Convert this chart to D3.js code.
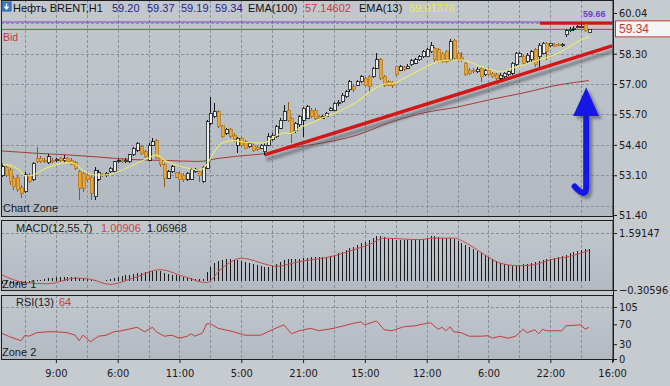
<!DOCTYPE html>
<html><head><meta charset="utf-8">
<script src="https://cdn.jsdelivr.net/npm/d3@7"></script>
<style>
html,body{margin:0;padding:0;background:#c5cacf;overflow:hidden}
text{font-family:"Liberation Sans",Arial,sans-serif}
.nar{font-family:"Liberation Sans Narrow","DejaVu Sans Condensed","Arial Narrow",sans-serif}
</style></head><body>
<script>
// ---------- DATA ----------
const openP = [53.11,53.44,53.33,52.97,53.01,52.58,52.40,53.11,52.90,53.82,
53.82,53.75,53.64,53.75,53.72,53.82,53.72,53.82,53.72,53.64,
53.25,53.18,53.11,53.01,52.18,52.93,53.15,53.11,53.25,53.25,
53.68,53.72,53.68,53.68,53.97,54.18,54.32,54.11,53.75,54.39,
54.58,53.82,53.54,52.97,53.25,53.21,53.18,53.11,52.93,52.93,
53.25,53.25,52.83,53.40,55.32,55.61,55.82,55.21,54.89,55.06,
54.82,54.39,54.68,54.54,54.32,54.39,54.29,54.25,54.11,54.39,
54.61,54.75,55.11,55.46,55.89,55.53,55.01,55.25,55.46,55.53,
55.89,55.89,55.63,55.53,55.61,55.89,55.89,56.15,56.25,56.46,
56.75,56.89,56.96,57.10,57.25,57.32,57.32,57.67,58.03,57.32,
57.10,57.06,57.74,57.60,57.72,57.67,57.82,57.89,58.03,58.17,
58.17,58.39,58.53,58.46,58.31,58.39,58.03,58.88,58.31,58.14,
57.89,57.60,57.60,57.53,57.67,57.39,57.60,57.46,57.39,57.25,
57.32,57.39,57.46,57.82,58.17,58.17,57.96,58.03,58.46,58.17,
58.31,58.74,58.63,58.71,58.71,58.63,59.10,59.28,59.34,59.43,
59.46,59.53,59.20];
const highP = [53.61,53.50,53.40,53.07,53.11,52.68,53.25,53.18,53.68,54.32,
53.93,53.82,54.01,53.82,53.85,53.90,53.97,53.90,53.82,53.72,
53.33,53.25,53.18,53.11,53.47,53.33,53.21,53.25,53.47,53.72,
53.78,53.82,53.82,54.01,54.32,54.54,54.39,54.18,54.47,54.68,
54.64,53.90,53.61,53.33,53.54,53.25,53.25,53.18,53.25,53.40,
53.40,53.33,53.50,55.46,56.46,56.18,55.89,55.25,55.11,55.11,
54.89,54.75,54.75,54.61,54.49,54.47,54.35,54.44,54.47,54.89,
54.92,55.25,55.53,56.10,56.25,55.61,55.39,55.68,56.03,56.10,
55.96,55.96,55.68,55.68,55.82,56.03,56.25,56.32,56.60,56.75,
57.17,57.00,57.17,57.39,57.32,57.39,57.74,58.31,58.10,57.39,
57.17,57.14,57.77,57.82,57.77,57.86,58.06,58.10,58.24,58.46,
58.53,58.81,58.60,58.53,58.39,58.46,58.91,58.91,58.39,58.39,
57.96,57.67,57.67,57.72,57.74,57.67,57.67,57.53,57.46,57.46,
57.53,57.60,57.96,58.39,58.39,58.24,58.31,58.46,58.53,58.74,
58.81,58.81,58.77,58.77,58.77,58.77,59.34,59.46,59.48,59.53,
59.57,59.60,59.37];
const lowP = [53.04,53.01,52.68,52.47,52.40,52.11,52.33,52.75,52.87,53.64,
53.61,53.61,53.58,53.64,53.68,53.68,53.61,53.61,53.54,53.33,
52.04,52.40,52.83,52.04,52.04,52.87,53.01,53.04,53.21,53.21,
53.64,53.61,53.64,53.64,53.93,54.11,53.97,53.82,53.72,54.35,
53.78,53.47,52.61,52.93,53.18,52.97,52.40,52.83,52.87,52.90,
53.21,52.83,52.79,53.35,55.25,55.53,55.11,54.68,54.82,54.68,
54.54,54.04,54.32,54.21,54.25,54.11,54.15,54.21,53.97,54.35,
54.58,54.68,55.06,55.43,55.39,54.47,54.92,55.18,54.75,55.49,
55.53,55.46,55.49,55.49,55.58,55.86,55.86,56.06,56.21,56.39,
56.68,56.68,56.92,57.06,56.92,56.63,57.25,57.63,57.17,56.89,
56.92,56.82,57.35,57.57,57.57,57.63,57.77,57.86,58.00,58.13,
58.14,58.34,57.96,57.92,57.92,57.92,58.00,58.03,57.96,57.96,
57.35,57.39,57.46,57.46,57.10,57.35,57.35,57.25,57.17,57.17,
57.25,57.35,57.39,57.77,58.14,57.82,57.89,57.96,57.74,57.74,
58.27,58.03,58.57,58.57,58.63,58.57,59.03,59.24,59.28,59.38,
59.43,59.24,59.19];
const closeP = [53.47,53.11,52.83,52.61,52.47,52.30,53.15,52.83,53.61,53.68,
53.68,53.68,53.90,53.71,53.78,53.75,53.82,53.68,53.58,53.40,
52.54,52.54,52.90,52.33,53.30,53.21,53.07,53.18,53.40,53.68,
53.72,53.68,53.75,53.97,54.25,54.47,54.04,53.90,54.39,54.54,
53.82,53.54,52.97,53.25,53.47,53.01,52.90,52.90,53.18,53.33,
53.35,53.07,53.44,55.39,55.75,55.82,55.18,54.75,55.06,54.75,
54.61,54.68,54.39,54.25,54.47,54.18,54.21,54.39,54.39,54.75,
54.82,55.18,55.46,55.82,55.46,54.89,55.32,55.61,55.96,56.03,
55.61,55.53,55.53,55.63,55.75,55.96,56.18,56.23,56.53,56.68,
57.10,56.75,57.10,57.32,56.96,56.89,57.67,58.03,57.25,56.96,
56.96,56.96,57.39,57.74,57.63,57.77,58.00,58.03,58.17,58.39,
58.49,58.67,58.03,57.96,57.96,57.96,58.81,58.10,58.03,58.03,
57.39,57.46,57.53,57.63,57.32,57.60,57.39,57.32,57.25,57.37,
57.46,57.53,57.89,58.31,58.31,57.89,58.24,58.39,57.82,58.67,
58.74,58.39,58.74,58.60,58.67,58.71,59.28,59.34,59.38,59.46,
59.48,59.28,59.34];

const ema13Idx = [0,2,5,6,8,11,13,17,19,21,24,27,30,34,38,40,42,45,48,51,53,55,57,60,64,68,70,73,75,77,80,83,88,92,96,99,101,105,109,113,116,119,123,126,130,132,135,139,144,147,150,152];
const ema13Val = [53.58,53.54,53.25,53.07,53.11,53.37,53.50,53.64,53.58,53.32,53.11,53.11,53.25,53.54,53.84,53.97,53.75,53.54,53.41,53.32,53.54,54.11,54.48,54.58,54.49,54.48,54.69,54.91,54.89,55.12,55.33,55.55,55.89,56.25,56.75,57.00,57.03,57.32,57.67,57.96,58.03,58.03,57.82,57.63,57.53,57.67,57.82,58.03,58.32,58.60,58.89,59.01];

const ema100Idx = [0,8,17,25,34,43,51,56,60,69,75,83,92,100,109,118,126,135,144,152];
const ema100Val = [54.14,54.05,53.97,53.88,53.77,53.73,53.69,53.82,53.90,54.05,54.27,54.48,54.82,55.33,55.76,56.02,56.32,56.62,56.96,57.15];

const macdMain = [-0.10,-0.12,-0.12,-0.13,-0.14,-0.12,-0.08,-0.06,-0.02,0.02,
0.04,0.06,0.08,0.10,0.12,0.13,0.14,0.14,0.13,0.12,
0.10,0.08,0.06,0.04,0.02,0.01,0.01,0.02,0.05,0.08,
0.12,0.15,0.18,0.20,0.22,0.25,0.27,0.29,0.31,0.33,
0.34,0.32,0.27,0.24,0.21,0.18,0.15,0.13,0.11,0.09,
0.07,0.05,0.06,0.30,0.47,0.58,0.66,0.70,0.72,0.72,
0.70,0.68,0.65,0.62,0.59,0.56,0.53,0.50,0.47,0.47,
0.50,0.56,0.62,0.70,0.72,0.72,0.72,0.74,0.76,0.77,
0.78,0.79,0.79,0.80,0.80,0.82,0.85,0.93,0.97,1.03,
1.10,1.14,1.20,1.25,1.30,1.35,1.42,1.50,1.50,1.45,
1.40,1.38,1.37,1.36,1.36,1.36,1.37,1.37,1.38,1.40,
1.44,1.50,1.48,1.45,1.43,1.42,1.42,1.38,1.33,1.26,
1.18,1.12,1.05,0.98,0.92,0.86,0.80,0.72,0.66,0.60,
0.56,0.52,0.49,0.50,0.52,0.55,0.57,0.59,0.62,0.66,
0.69,0.72,0.74,0.77,0.80,0.83,0.87,0.91,0.95,0.99,
1.02,1.05,1.07];

const signalIdx = [0,6,12,19,23,28,34,41,47,53,57,62,69,71,77,86,91,95,99,104,108,112,117,121,125,129,134,138,142,147,152];
const signalVal = [0.20,-0.06,-0.10,0.09,0.05,-0.12,0.09,0.37,0.15,-0.06,0.42,0.75,0.53,0.48,0.64,0.83,1.03,1.20,1.42,1.39,1.37,1.42,1.42,1.20,0.87,0.59,0.50,0.54,0.70,0.81,1.01];

const rsiIdx = [0,2,5,6,7,9,12,14,17,19,20,21,23,25,27,29,31,35,37,39,40,42,44,46,48,49,50,52,53,54,56,60,63,67,70,73,75,77,80,82,86,91,93,94,97,99,101,104,107,110,111,113,114,115,116,117,119,121,124,126,127,129,131,133,135,136,138,139,140,141,145,146,150,151,152];
const rsiVal = [52,45,37,48,46,53,55,55,53,48,37,48,35,46,48,55,57,64,55,64,55,46,48,42,46,51,46,53,71,71,62,55,48,48,59,69,51,57,62,57,62,72,75,69,77,59,57,65,67,72,73,60,64,57,65,55,53,46,46,47,42,46,42,46,60,53,59,51,60,57,57,67,69,60,64];

const priceTicks = [60.04,58.30,57.00,55.70,54.40,53.10,51.40];
const priceGrid = [59.60,58.30,57.00,55.70,54.40,53.10,51.80];
const macdTicks = [1.59147,-0.30596];
const rsiTicks = [105,70,30,0];
const timeIdx = [14,30,46,62,78,94,110,126,142,158];
const timeLabels = ["9:00","6:00","11:00","5:00","21:00","15:00","12:00","6:00","22:00","16:00"];
const gridIdx = d3.range(6,158,8);
const trendIdx = [68,158], trendVal = [53.97,58.63];
const resistIdx = [139.3,158], resistVal = [59.60,59.60];
const askLevel = 59.655, bidLevel = 59.34;

// ---------- LAYOUT ----------
const W=670,H=386, R=613;
const svg=d3.select("body").append("svg").attr("width",W).attr("height",H);
const defs=svg.append("defs");
const g1=defs.append("linearGradient").attr("id","bg").attr("x1",0).attr("y1",0).attr("x2",0).attr("y2",1);
g1.append("stop").attr("offset",0).attr("stop-color","#c3c8ce");
g1.append("stop").attr("offset",1).attr("stop-color","#b2b9c1");
const sh=defs.append("filter").attr("id","sh").attr("x","-20%").attr("y","-50%").attr("width","140%").attr("height","200%");
sh.append("feDropShadow").attr("dx",2).attr("dy",5).attr("stdDeviation",1.8).attr("flood-color","#4a4f55").attr("flood-opacity",0.6);
const sh2=defs.append("filter").attr("id","sh2").attr("x","-50%").attr("y","-20%").attr("width","200%").attr("height","140%");
sh2.append("feDropShadow").attr("dx",3).attr("dy",3).attr("stdDeviation",1.5).attr("flood-color","#4a4f55").attr("flood-opacity",0.6);

const panels={main:[0,217],macd:[220,291],rsi:[295,360]};
const x=d3.scaleLinear().domain([0,158]).range([1.8,612.1]);
const yP=d3.scaleLinear().domain([51.40,60.04]).range([215,13]);
const yM=d3.scaleLinear().domain([-0.30596,1.59147]).range([290,233]);
const yR=d3.scaleLinear().domain([0,105]).range([359,307]);

svg.append("rect").attr("width",W).attr("height",H).attr("fill","#c6cbd0");
Object.entries(panels).forEach(([k,[t,b]])=>{
  svg.append("rect").attr("x",1).attr("y",t).attr("width",R-1).attr("height",b-t).attr("fill","url(#bg)");
  defs.append("clipPath").attr("id","c_"+k).append("rect").attr("x",1).attr("y",t).attr("width",R-1).attr("height",b-t);
});

// vertical grid
Object.entries(panels).forEach(([k,[t,b]])=>{
  svg.append("g").attr("clip-path","url(#c_"+k+")").selectAll("line").data(gridIdx).join("line")
    .attr("x1",d=>Math.round(x(d))+0.5).attr("x2",d=>Math.round(x(d))+0.5).attr("y1",t).attr("y2",b)
    .attr("stroke","#87919c").attr("stroke-dasharray","3,2");
});
// horizontal grid
function hgrid(vals,sc,k){
  svg.append("g").attr("clip-path","url(#c_"+k+")").selectAll("line").data(vals).join("line")
   .attr("x1",1).attr("x2",R).attr("y1",d=>Math.round(sc(d))+0.5).attr("y2",d=>Math.round(sc(d))+0.5)
   .attr("stroke","#87919c").attr("stroke-dasharray","3,2");
}
hgrid(priceGrid,yP,"main"); hgrid(macdTicks,yM,"macd"); hgrid([105,0],yR,"rsi");

// ---------- MAIN PANEL ----------
const gm=svg.append("g").attr("clip-path","url(#c_main)");
gm.append("line").attr("x1",1).attr("x2",R).attr("y1",yP(askLevel)).attr("y2",yP(askLevel)).attr("stroke","#7a3fc8").attr("stroke-width",1.2);
gm.append("line").attr("x1",1).attr("x2",R).attr("y1",yP(bidLevel)).attr("y2",yP(bidLevel)).attr("stroke","#c23a3a").attr("stroke-width",1);
const lineE=(idx,val,sc)=>d3.line().x((d,i)=>x(idx[i])).y((d,i)=>sc(val[i])).curve(d3.curveMonotoneX)(idx);
gm.append("path").attr("d",lineE(ema100Idx,ema100Val,yP)).attr("fill","none").attr("stroke","#a83a3a").attr("stroke-width",1);
gm.append("path").attr("d",d3.line().x((d,i)=>x(trendIdx[i])).y((d,i)=>yP(trendVal[i]))(trendIdx))
  .attr("stroke","#d41414").attr("stroke-width",3.4).attr("fill","none").attr("filter","url(#sh)");
gm.append("path").attr("d",d3.line().x((d,i)=>x(resistIdx[i])).y((d,i)=>yP(resistVal[i]))(resistIdx))
  .attr("stroke","#d41414").attr("stroke-width",3).attr("fill","none");
const cand=d3.range(openP.length).map(i=>({i,o:openP[i],h:highP[i],l:lowP[i],c:closeP[i]}));
const cg=gm.append("g").attr("shape-rendering","crispEdges");
cg.selectAll("line").data(cand).join("line")
  .attr("x1",d=>Math.round(x(d.i))+0.5).attr("x2",d=>Math.round(x(d.i))+0.5)
  .attr("y1",d=>yP(d.h)).attr("y2",d=>yP(d.l))
  .attr("stroke",d=>d.c>=d.o?"#151515":"#8a5c14");
cg.selectAll("rect").data(cand).join("rect")
  .attr("x",d=>Math.round(x(d.i))-1).attr("width",3)
  .attr("y",d=>yP(Math.max(d.o,d.c))).attr("height",d=>Math.max(1,Math.abs(yP(d.o)-yP(d.c))))
  .attr("fill",d=>d.c>=d.o?"#eeeeee":"#e9a53c").attr("stroke",d=>d.c>=d.o?"#151515":"#b27a22").attr("stroke-width",0.8);
gm.append("path").attr("d",lineE(ema13Idx,ema13Val,yP)).attr("fill","none").attr("stroke","#ecec6a").attr("stroke-width",1.1);

const ax=151.3, axL=147.9, axR=154.6;
const arrow=gm.append("g").attr("filter","url(#sh2)");
arrow.append("path").attr("d",`M${x(ax)},${yP(55.75)} L${x(ax)},${yP(52.60)} Q${x(ax)},${yP(52.08)} ${x(148.3)},${yP(52.62)}`)
  .attr("fill","none").attr("stroke","#1414e6").attr("stroke-width",6).attr("stroke-linecap","round");
arrow.append("path").attr("d",`M${x(ax)},${yP(56.85)} L${x(axR)},${yP(55.63)} L${x(axL)},${yP(55.63)} Z`).attr("fill","#1414e6");

// ---------- MACD ----------
const gmd=svg.append("g").attr("clip-path","url(#c_macd)");
gmd.append("g").attr("shape-rendering","crispEdges").selectAll("line").data(macdMain).join("line")
  .attr("x1",(d,i)=>Math.round(x(i))+0.5).attr("x2",(d,i)=>Math.round(x(i))+0.5)
  .attr("y1",yM(0)).attr("y2",d=>yM(d)).attr("stroke","#1c1c1c").attr("stroke-width",1);
gmd.append("path").attr("d",lineE(signalIdx,signalVal,yM)).attr("fill","none").attr("stroke","#c84646").attr("stroke-width",1);

// ---------- RSI ----------
const gr=svg.append("g").attr("clip-path","url(#c_rsi)");
gr.append("path").attr("d",d3.line().x((d,i)=>x(rsiIdx[i])).y((d,i)=>yR(rsiVal[i]))(rsiIdx))
  .attr("fill","none").attr("stroke","#c43c3c").attr("stroke-width",1);

Object.values(panels).forEach(([t,b])=>{
  svg.append("rect").attr("x",1.5).attr("y",t+0.5).attr("width",R-1.5).attr("height",b-t-1).attr("fill","none").attr("stroke","#1e1e1e").attr("stroke-width",1);
});

// ---------- AXES ----------
function styleAx(g){g.select(".domain").remove();g.selectAll(".tick line").attr("stroke","#1e1e1e");
  g.selectAll(".tick text").attr("class","nar").attr("fill","#1a1a1a").attr("font-size",11)
   .attr("font-family",'"Liberation Sans Narrow","DejaVu Sans Condensed","Arial Narrow",sans-serif');}
svg.append("g").attr("transform",`translate(${R},0)`).call(d3.axisRight(yP).tickValues(priceTicks).tickFormat(d3.format(".2f")).tickSize(4).tickPadding(2)).call(styleAx);
svg.append("g").attr("transform",`translate(${R},0)`).call(d3.axisRight(yM).tickValues(macdTicks).tickFormat(d3.format(".5f")).tickSize(4).tickPadding(2)).call(styleAx);
svg.append("g").attr("transform",`translate(${R},0)`).call(d3.axisRight(yR).tickValues(rsiTicks).tickFormat(d3.format("d")).tickSize(4).tickPadding(2)).call(styleAx);
svg.append("g").attr("transform",`translate(0,360)`).call(d3.axisBottom(x).tickValues(timeIdx).tickFormat((d,i)=>timeLabels[i]).tickSize(3).tickPadding(6)).call(styleAx);
svg.append("line").attr("x1",R+0.5).attr("x2",R+0.5).attr("y1",0).attr("y2",362).attr("stroke","#1e1e1e");

const by=yP(bidLevel);
svg.append("rect").attr("x",615.5).attr("y",by-8.5).attr("width",56).attr("height",16).attr("fill","#f4f4f4").attr("stroke","#c23a3a");
svg.append("text").attr("x",619).attr("y",by+4).attr("font-size",12).attr("fill","#c23a3a")
  .attr("font-family",'"Liberation Sans Narrow","DejaVu Sans Condensed",sans-serif').text(d3.format(".2f")(bidLevel));
svg.append("text").attr("x",583).attr("y",17).attr("font-size",9).attr("font-weight","bold").attr("fill","#6a44c8").text(d3.format(".2f")(askLevel));

// ---------- LABELS ----------
svg.append("rect").attr("x",2).attr("y",2).attr("width",9).attr("height",9).attr("fill","#3a7fd0").attr("stroke","#2a5a9a");
svg.append("path").attr("d","M6.5,3.5 L6.5,8 M4.5,6.5 L6.5,9 L8.5,6.5").attr("stroke","#fff").attr("stroke-width",1.3).attr("fill","none");
svg.append("text").attr("x",13).attr("y",11.5).attr("font-size",11).attr("fill","#111").text("Нефть BRENT,H1");
[["59.20",112],["59.37",147],["59.19",181],["59.34",215]].forEach(([t,px])=>svg.append("text").attr("x",px).attr("y",11.5).attr("font-size",11).attr("fill","#24248c").text(t));
svg.append("text").attr("x",248).attr("y",11.5).attr("font-size",11).attr("fill","#111").text("EMA(100)");
svg.append("text").attr("x",305).attr("y",11.5).attr("font-size",11).attr("fill","#c83c3c").text("57.14602");
svg.append("text").attr("x",359).attr("y",11.5).attr("font-size",11).attr("fill","#111").text("EMA(13)");
svg.append("text").attr("x",409).attr("y",11.5).attr("font-size",11).attr("fill","#eaea44").text("59.01376");
svg.append("text").attr("x",3).attr("y",41).attr("font-size",10.5).attr("fill","#c23a3a").text("Bid");
svg.append("text").attr("x",3).attr("y",212).attr("font-size",11).attr("fill","#1a1a1a").text("Chart Zone");
svg.append("text").attr("x",16).attr("y",232).attr("font-size",11).attr("fill","#1a1a1a").text("MACD(12,55,7)");
svg.append("text").attr("x",101).attr("y",232).attr("font-size",11).attr("fill","#c84646").text("1.00906");
svg.append("text").attr("x",147).attr("y",232).attr("font-size",11).attr("fill","#1a1a1a").text("1.06968");
svg.append("text").attr("x",2).attr("y",288).attr("font-size",11).attr("fill","#1a1a1a").text("Zone 1");
svg.append("text").attr("x",16).attr("y",306).attr("font-size",11).attr("fill","#1a1a1a").text("RSI(13)");
svg.append("text").attr("x",59).attr("y",306).attr("font-size",11).attr("fill","#c43c3c").text("64");
svg.append("text").attr("x",2).attr("y",356).attr("font-size",11).attr("fill","#1a1a1a").text("Zone 2");
</script></body></html>
